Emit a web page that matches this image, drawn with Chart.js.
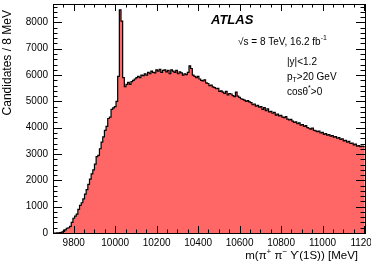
<!DOCTYPE html>
<html>
<head>
<meta charset="utf-8">
<script src="https://cdn.jsdelivr.net/npm/chart.js@4.4.1/dist/chart.umd.min.js"></script>
<style>
    html, body { margin: 0; padding: 0; background: #fff; overflow: hidden; }
</style>
</head>
<body>
<canvas id="massChart" width="371" height="263"></canvas>
<script>
// Histogram binning (MeV)
const binLow = 9700;
const binWidth = 8;

// Tick labels
const xTickLabels = [9800, 10000, 10200, 10400, 10600, 10800, 11000, 11200];
const yTickLabels = [0, 1000, 2000, 3000, 4000, 5000, 6000, 7000, 8000];

// Candidates per 8 MeV bin
const candidates = [
    0, 0, 5, 10, 15, 30, 60, 120, 180, 200,
    250, 400, 560, 640, 720, 900, 1050, 1150, 1300, 1480,
    1650, 1850, 2050, 2250, 2400, 2620, 2900, 2950, 3200, 3450,
    3650, 3900, 4050, 4350, 4400, 4700, 4750, 4800, 5000, 5950,
    8480, 8050, 5900, 5560, 5650, 5720, 5650, 5750, 5800, 5850,
    5900, 5950, 5900, 6000, 5980, 6050, 6000, 6100, 6050, 6150,
    6100, 6080, 6200, 6150, 6220, 6100, 6180, 6200, 6120, 6180,
    6050, 6200, 6150, 6100, 6180, 6050, 6120, 6080, 6000, 6050,
    6020, 6100, 6350, 6250, 6000, 5950, 5900, 5950, 5850, 5800,
    5780, 5820, 5700, 5680, 5600, 5620, 5550, 5520, 5480, 5500,
    5380, 5400, 5350, 5300, 5380, 5250, 5300, 5280, 5220, 5180,
    5350, 5200, 5150, 5100, 5080, 5050, 5000, 5030, 4980, 4950,
    4880, 4900, 4820, 4850, 4780, 4800, 4700, 4760, 4650, 4720,
    4600, 4620, 4550, 4580, 4480, 4520, 4450, 4470, 4400, 4380,
    4420, 4330, 4300, 4320, 4250, 4200, 4220, 4150, 4180, 4100,
    4120, 4050, 4080, 4000, 3980, 3950, 3990, 3900, 3880, 3850,
    3870, 3800, 3820, 3750, 3780, 3720, 3740, 3680, 3700, 3640,
    3660, 3600, 3620, 3560, 3580, 3500, 3520, 3450, 3480, 3400,
    3420, 3350, 3380, 3300, 3320, 3280, 3300, 3280
];

const FONT = '"Liberation Sans", Arial, sans-serif';

// left bin edges + closing right edge, drawn as a step line
const histPoints = candidates.map((v, i) => ({ x: binLow + i * binWidth, y: v }));
histPoints.push({ x: binLow + candidates.length * binWidth, y: candidates[candidates.length - 1] });

// Draw text pieces in sequence; sup/sub pieces are smaller and shifted
function drawRich(ctx, parts, x, y, size, alignRight) {
    const widths = parts.map(p => {
        ctx.font = `${p.style || ''} ${p.sup || p.sub ? size * 0.7 : size}px ${FONT}`;
        return ctx.measureText(p.t).width;
    });
    let cx = alignRight ? x - widths.reduce((a, b) => a + b, 0) : x;
    parts.forEach((p, i) => {
        ctx.font = `${p.style || ''} ${p.sup || p.sub ? size * 0.7 : size}px ${FONT}`;
        const dy = p.sup ? -size * 0.4 : (p.sub ? size * 0.35 : 0);
        ctx.fillText(p.t, cx, y + dy);
        cx += widths[i];
    });
}

// Frame, inward ticks on all four sides, labels
const atlasFrame = {
    id: 'atlasFrame',
    afterDatasetsDraw(chart) {
        const { ctx, chartArea: a, scales: { x, y } } = chart;
        ctx.save();
        ctx.strokeStyle = '#000';
        ctx.lineWidth = 1;
        ctx.strokeRect(Math.round(a.left) + 0.5, Math.round(a.top) + 0.5,
            Math.round(a.right - a.left), Math.round(a.bottom - a.top));
        ctx.beginPath();
        for (let v = 9750; v <= 11200; v += 50) {
            const px = Math.round(x.getPixelForValue(v)) + 0.5;
            const len = v % 200 === 0 ? 7 : 3.5;
            ctx.moveTo(px, a.bottom); ctx.lineTo(px, a.bottom - len);
            ctx.moveTo(px, a.top); ctx.lineTo(px, a.top + len);
        }
        for (let v = 200; v <= 8600; v += 200) {
            const py = Math.round(y.getPixelForValue(v)) + 0.5;
            const len = v % 1000 === 0 ? 9 : 4.5;
            ctx.moveTo(a.left, py); ctx.lineTo(a.left + len, py);
            ctx.moveTo(a.right, py); ctx.lineTo(a.right - len, py);
        }
        ctx.stroke();
        ctx.restore();
    },
    afterDraw(chart) {
        const { ctx } = chart;
        ctx.save();
        ctx.fillStyle = '#000';
        ctx.textBaseline = 'middle';
        ctx.textAlign = 'left';

        ctx.font = `italic bold 13px ${FONT}`;
        ctx.fillText('ATLAS', 211, 20);

        drawRich(ctx, [{ t: '√s = 8 TeV, 16.2 fb' }, { t: '-1', sup: true }], 238, 42, 10);
        ctx.font = `10px ${FONT}`;
        ctx.fillText('|y|<1.2', 287, 62);
        drawRich(ctx, [{ t: 'p' }, { t: 'T', sub: true }, { t: '>20 GeV' }], 287, 77, 10);
        drawRich(ctx, [{ t: 'cosθ' }, { t: '*', sup: true }, { t: '>0' }], 287, 92, 10);

        // axis titles
        drawRich(ctx, [
            { t: 'm(π' }, { t: '+', sup: true }, { t: ' π' }, { t: '−', sup: true },
            { t: ' ϒ(1S)) [MeV]' }
        ], 358, 256, 11.5, true);

        ctx.translate(8, 10);
        ctx.rotate(-Math.PI / 2);
        ctx.textAlign = 'right';
        ctx.font = `12px ${FONT}`;
        ctx.fillText('Candidates / 8 MeV', 0, 0);
        ctx.restore();
    }
};

new Chart(document.getElementById('massChart').getContext('2d'), {
    type: 'line',
    data: {
        datasets: [{
            label: 'Candidates',
            data: histPoints,
            stepped: 'before',
            borderColor: '#000',
            borderWidth: 1.2,
            backgroundColor: 'rgb(255, 102, 102)',
            fill: 'origin',
            pointRadius: 0,
            tension: 0
        }]
    },
    options: {
        responsive: false,
        animation: false,
        devicePixelRatio: 1,
        layout: { padding: { top: 4, right: 6, left: 0, bottom: 0 } },
        plugins: {
            legend: { display: false },
            tooltip: { enabled: false }
        },
        scales: {
            x: {
                type: 'linear',
                min: 9700,
                max: 11205,
                grid: { display: false, drawTicks: false },
                border: { display: false },
                ticks: {
                    stepSize: 200,
                    padding: 4,
                    maxRotation: 0,
                    color: '#000',
                    font: { family: FONT, size: 10 },
                    callback: v => String(v)
                },
                afterBuildTicks: s => {
                    s.ticks = xTickLabels.map(v => ({ value: v }));
                },
                afterFit: s => {
                    s.height = 30;
                    s.paddingLeft = 0;
                    s.paddingRight = 0;
                }
            },
            y: {
                min: 0,
                max: 8700,
                grid: { display: false, drawTicks: false },
                border: { display: false },
                ticks: {
                    stepSize: 1000,
                    padding: 5,
                    color: '#000',
                    font: { family: FONT, size: 10 },
                    callback: v => String(v)
                },
                afterBuildTicks: s => {
                    s.ticks = yTickLabels.map(v => ({ value: v }));
                },
                afterFit: s => {
                    s.width = 53;
                    s.paddingTop = 0;
                    s.paddingBottom = 0;
                }
            }
        }
    },
    plugins: [atlasFrame]
});
</script>
</body>
</html>
